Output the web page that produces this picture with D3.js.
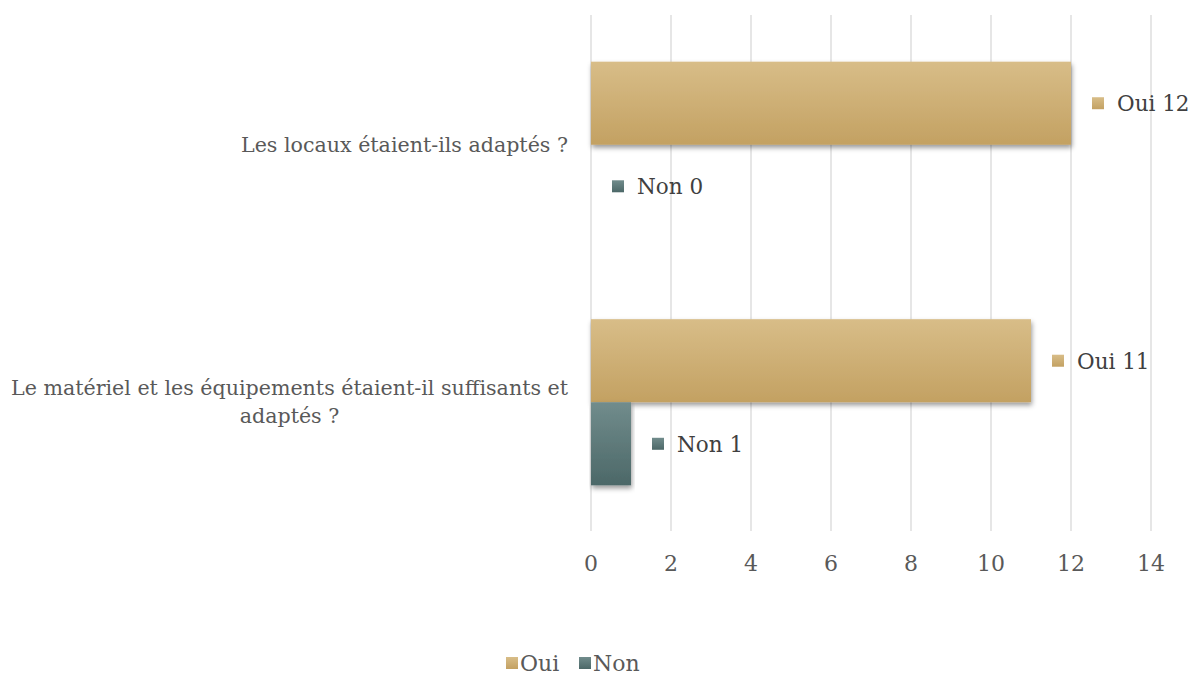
<!DOCTYPE html>
<html>
<head>
<meta charset="utf-8">
<script src="https://cdn.jsdelivr.net/npm/d3@7"></script>
<style>
  body { margin: 0; background: #fff; }
  text { font-family: "DejaVu Serif", Georgia, serif; fill: #595959; }
</style>
</head>
<body>
<div id="chart"></div>
<script>
// Chart data
const categories = [
    ['Les locaux étaient-ils adaptés ?'],
    ['Le matériel et les équipements étaient-il suffisants et', 'adaptés ?']
];
const seriesNames = ['Oui', 'Non'];
const ouiValues = [12, 11];
const nonValues = [0, 1];
const xTicks = [0, 2, 4, 6, 8, 10, 12, 14];

const width = 1190;
const height = 675;
const margin = { top: 16, right: 39, bottom: 144, left: 591 };
const innerW = width - margin.left - margin.right;
const innerH = height - margin.top - margin.bottom;

const svg = d3.select('#chart').append('svg')
    .attr('width', width)
    .attr('height', height);

const defs = svg.append('defs');
const grads = { Oui: ['#d8bd88', '#c3a162'], Non: ['#718c8c', '#4c6868'] };
Object.entries(grads).forEach(([k, c]) => {
    const g = defs.append('linearGradient').attr('id', 'grad-' + k)
        .attr('x1', 0).attr('y1', 0).attr('x2', 0).attr('y2', 1);
    g.append('stop').attr('offset', '0%').attr('stop-color', c[0]);
    g.append('stop').attr('offset', '100%').attr('stop-color', c[1]);
});
const shadow = defs.append('filter').attr('id', 'shadow')
    .attr('x', '-5%').attr('y', '-10%').attr('width', '115%').attr('height', '130%');
shadow.append('feDropShadow').attr('dx', 1).attr('dy', 3).attr('stdDeviation', 2.5)
    .attr('flood-color', '#000').attr('flood-opacity', 0.4);

const g = svg.append('g').attr('transform', 'translate(' + margin.left + ',' + margin.top + ')');

const x = d3.scaleLinear().domain([0, 14]).range([0, innerW]);
const y0 = d3.scaleBand().domain(d3.range(categories.length)).range([0, innerH]).paddingInner(0).paddingOuter(0);
const y1 = d3.scaleBand().domain(seriesNames).range([0, y0.bandwidth()]).paddingInner(0).paddingOuter(0.55);

// Gridlines
g.selectAll('.grid').data(xTicks).enter().append('line')
    .attr('x1', d => x(d)).attr('x2', d => x(d))
    .attr('y1', -1).attr('y2', innerH)
    .attr('stroke', '#d9d9d9').attr('stroke-width', 1.3);

// Tick labels
g.selectAll('.tick-label').data(xTicks).enter().append('text')
    .attr('x', d => x(d)).attr('y', innerH + 40)
    .attr('text-anchor', 'middle')
    .style('font-size', '22px')
    .text(d => d);

// Bars
const rows = [];
categories.forEach((c, i) => {
    rows.push({ cat: i, s: 'Oui', v: ouiValues[i] });
    rows.push({ cat: i, s: 'Non', v: nonValues[i] });
});

g.selectAll('.bar').data(rows).enter().append('rect')
    .attr('x', 0)
    .attr('y', d => y0(d.cat) + y1(d.s))
    .attr('width', d => x(d.v))
    .attr('height', y1.bandwidth())
    .attr('fill', d => 'url(#grad-' + d.s + ')')
    .attr('filter', d => d.v > 0 ? 'url(#shadow)' : null);

// Data labels with legend key
const lab = g.selectAll('.dlabel').data(rows).enter().append('g')
    .attr('transform', d => 'translate(' + (x(d.v) + 21) + ',' + (y0(d.cat) + y1(d.s) + y1.bandwidth() / 2) + ')');
lab.append('rect').attr('x', 0).attr('y', -6).attr('width', 12).attr('height', 12)
    .attr('fill', d => 'url(#grad-' + d.s + ')');
lab.append('text').attr('x', 25).attr('y', 8)
    .style('font-size', '21.5px').style('fill', '#404040')
    .text(d => d.s + ' ' + d.v);

// Category labels
categories.forEach((lines, i) => {
    const cy = y0(i) + y0.bandwidth() / 2;
    const t = g.append('text').attr('y', cy - (lines.length - 1) * 14 + 7)
        .style('font-size', '20.6px');
    lines.forEach((l, j) => {
        t.append('tspan').attr('dy', j === 0 ? 0 : 28).text(l);
    });
    // right-align block, center lines within block
    const tspans = t.selectAll('tspan').nodes();
    const widths = tspans.map(n => n.getComputedTextLength());
    const maxW = d3.max(widths);
    const center = -23 - maxW / 2;
    t.attr('text-anchor', 'middle');
    tspans.forEach(n => n.setAttribute('x', center));
});

// Legend
const legend = svg.append('g').attr('transform', 'translate(506,663)');
const legItems = [{ s: 'Oui', x: 0 }, { s: 'Non', x: 73 }];
legItems.forEach(it => {
    const lg = legend.append('g').attr('transform', 'translate(' + it.x + ',0)');
    lg.append('rect').attr('x', 0).attr('y', -6).attr('width', 12).attr('height', 12)
        .attr('fill', 'url(#grad-' + it.s + ')');
    lg.append('text').attr('x', 14).attr('y', 8).style('font-size', '22px').text(it.s);
});
</script>
</body>
</html>
